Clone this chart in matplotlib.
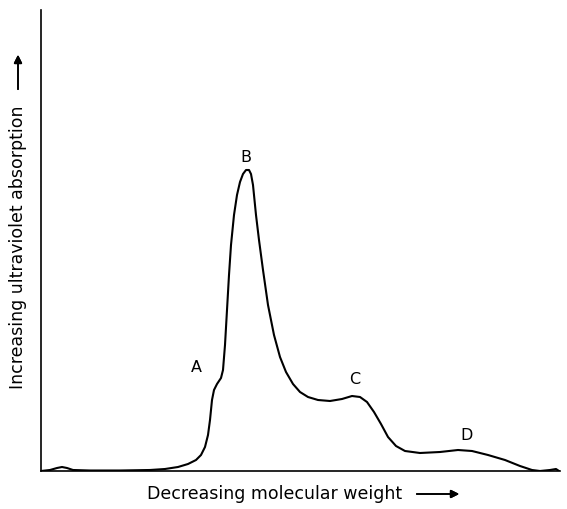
import matplotlib.pyplot as plt

# elution position (arbitrary units) and UV absorption (arbitrary units)
position = [0, 9, 16, 21, 26, 32, 49, 79, 109, 124, 137, 147, 155, 160, 164, 167,
            169, 171, 173, 176, 180, 182, 184, 186, 188, 190, 193, 196, 199, 202,
            205, 208, 210, 212, 215, 218, 222, 227, 233, 239, 245, 252, 259, 267,
            277, 289, 301, 311, 319, 326, 333, 340, 347, 355, 364, 379, 399, 417,
            431, 447, 464, 479, 491, 499, 509, 515, 518]
absorption = [0, 1, 3, 4, 3, 1, 0.5, 0.5, 1, 2, 4, 7, 11, 16, 24, 36,
              51, 71, 81, 87, 93, 101, 126, 161, 196, 226, 256, 276, 289, 297,
              301, 301, 297, 286, 256, 231, 201, 166, 136, 114, 99, 87, 79, 74,
              71, 70, 72, 75, 74, 69, 59, 47, 34, 25, 20, 18, 19, 21,
              20, 16, 11, 5, 1, 0, 1, 2, 0]

peak_labels = ['A', 'B', 'C', 'D']
peak_x = [155, 205, 314, 426]
peak_y = [103, 314, 92, 36]

W, H = 567, 509
fig = plt.figure(figsize=(W / 100, H / 100), dpi=100)
ax = fig.add_axes([41 / W, (H - 471) / H, 519 / W, 461 / H])

ax.plot(position, absorption, color='black', linewidth=1.5, solid_capstyle='round')
for lab, px, py in zip(peak_labels, peak_x, peak_y):
    ax.text(px, py, lab, fontsize=11.5, ha='center', va='center')

ax.set_xlim(0, 519)
ax.set_ylim(0, 461)
ax.set_xticks([])
ax.set_yticks([])
ax.spines['top'].set_visible(False)
ax.spines['right'].set_visible(False)
ax.spines['left'].set_linewidth(1.2)
ax.spines['bottom'].set_linewidth(1.2)

# axis titles with arrows
fig.text(275 / W, 1 - 494 / H, 'Decreasing molecular weight', fontsize=12.5,
         ha='center', va='center')
fig.text(18 / W, 1 - 247 / H, 'Increasing ultraviolet absorption', fontsize=12.5,
         ha='center', va='center', rotation=90)
fig.add_artist(plt.annotate('', xy=(462 / W, 1 - 494 / H), xytext=(414 / W, 1 - 494 / H),
                            xycoords='figure fraction',
                            arrowprops=dict(arrowstyle='-|>', color='black', lw=1.2,
                                            mutation_scale=12)))
fig.add_artist(plt.annotate('', xy=(18 / W, 1 - 52 / H), xytext=(18 / W, 1 - 92 / H),
                            xycoords='figure fraction',
                            arrowprops=dict(arrowstyle='-|>', color='black', lw=1.2,
                                            mutation_scale=12)))

plt.savefig('out.png', dpi=100)
